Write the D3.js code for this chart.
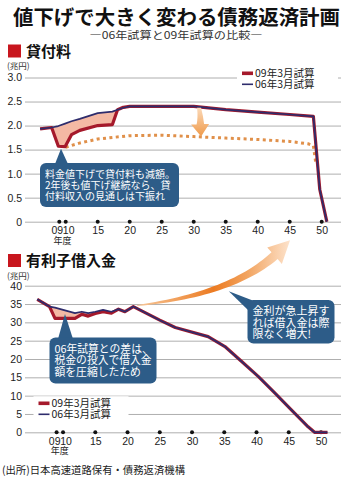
<!DOCTYPE html>
<html lang="ja">
<head>
<meta charset="UTF-8">
<title>値下げで大きく変わる債務返済計画</title>
<script src="https://d3js.org/d3.v7.min.js"></script>
<style>
  body { margin: 0; background: #fff; }
  svg { display: block; font-family: "Noto Sans CJK JP", "Noto Sans", sans-serif; }
  .tick text { font-family: "Liberation Sans", "Noto Sans", sans-serif; font-size: 10.5px; fill: #222; }
  .grid .tick line { stroke: #9a9a9a; stroke-width: 0.8; }
</style>
</head>
<body>
<svg id="chart" width="350" height="477"></svg>
<script>
// ---- data ----
// 貸付料 (兆円)
const lendYears = [6, 7.8, 8.85, 9.9, 10.9, 12.2, 15, 17.3, 18.1, 19, 20, 25, 30, 35, 40, 45, 48.7, 49.7, 50.8];
const lend06 = [1.93, 1.96, 1.99, 2.04, 2.09, 2.14, 2.26, 2.29, 2.33, 2.37, 2.40, 2.40, 2.40, 2.33, 2.28, 2.23, 2.19, 0.67, 0];
const lend09 = [1.93, 1.96, 1.57, 1.56, 1.81, 1.90, 2.00, 2.02, 2.33, 2.38, 2.40, 2.40, 2.40, 2.33, 2.28, 2.23, 2.19, 0.67, 0];
const lendOutlookYears = [10, 12, 15, 20, 25, 30, 35, 40, 45, 47.9, 48.7, 49.1];
const lendOutlook = [1.55, 1.63, 1.72, 1.79, 1.80, 1.77, 1.74, 1.71, 1.67, 1.62, 1.58, 1.2];

// 有利子借入金 (兆円)
const debtYears = [6, 7.9, 8.75, 11.85, 12.9, 13.9, 15, 16.2, 17.5, 18.6, 19.6, 20.9, 25, 27.4, 32.5, 35.1, 37.7, 40.3, 42.9, 45.4, 48, 49, 51];
const debt06 = [36.3, 34.3, 34.0, 32.5, 32.9, 32.5, 32.9, 33.4, 32.9, 33.6, 32.9, 34.3, 30.6, 28.6, 26.1, 23.4, 19.3, 15.2, 10.6, 6.1, 1.5, 0, 0];
const debt09 = [36.3, 34.3, 31.1, 31.1, 32.2, 31.7, 32.4, 32.9, 32.5, 33.6, 32.9, 34.3, 30.6, 28.6, 26.1, 23.4, 19.3, 15.2, 10.6, 6.1, 1.5, 0, 0];

const xTickYears = [9, 10, 15, 20, 25, 30, 35, 40, 45, 50];
const lendTicks = [0, 0.5, 1.0, 1.5, 2.0, 2.5, 3.0];
const debtTicks = [0, 5, 10, 15, 20, 25, 30, 35, 40];
const seriesNames = ["09年3月試算", "06年3月試算"];

const RED = "#a5192b", NAVY = "#2e2c6c", SHADE = "#f4b9a4", DOT = "#e0904a", BOX = "#2d5c88";

const svg = d3.select("#chart");
const defs = svg.append("defs");

// ---- title ----
svg.append("text").attr("x", 13).attr("y", 24.5)
  .attr("textLength", 327).attr("lengthAdjust", "spacingAndGlyphs")
  .style("font-size", "20px").style("font-weight", 700).attr("fill", "#111")
  .text("値下げで大きく変わる債務返済計画");
svg.append("text").attr("x", 176).attr("y", 38.5).attr("text-anchor", "middle")
  .attr("textLength", 173).attr("lengthAdjust", "spacingAndGlyphs")
  .style("font-size", "10.5px").attr("fill", "#333")
  .text("―06年試算と09年試算の比較―");

function header(y, label) {
  svg.append("rect").attr("x", 8).attr("y", y - 12).attr("width", 13).attr("height", 13).attr("fill", "#c8161e");
  svg.append("text").attr("x", 26).attr("y", y).style("font-size", "15px").style("font-weight", 700)
    .attr("fill", "#111").text(label);
  svg.append("text").attr("x", 7).attr("y", y + 12.5).style("font-size", "8.5px").attr("fill", "#333").text("(兆円)");
}

function panel(opt) {
  const { x, y, ticks, fmt, years, s06, s09, fillFrom, fillTo } = opt;
  const g = svg.append("g");
  // gridlines + y labels
  g.append("g").attr("class", "grid").attr("transform", "translate(25,0)")
    .call(d3.axisLeft(y).tickValues(ticks).tickFormat(fmt).tickSize(-316).tickPadding(3))
    .call(a => a.select(".domain").remove())
    .call(a => a.selectAll(".tick").filter(d => d === 0).select("line").attr("stroke", "#333").attr("stroke-width", 1));
  // x labels
  const xa = g.append("g").attr("transform", `translate(0,${y(0)})`)
    .call(d3.axisBottom(x).tickValues(xTickYears).tickFormat(d => d === 9 ? "09" : d).tickSize(0).tickPadding(5));
  xa.select(".domain").remove();
  xa.selectAll(".tick").filter(d => d === 9).select("text").attr("text-anchor", "end").attr("dx", "3.4");
  xa.selectAll(".tick").filter(d => d === 10).select("text").attr("text-anchor", "start").attr("dx", "-3.4");
  g.append("text").attr("x", (x(9) + x(10)) / 2).attr("y", y(0) + 22).attr("text-anchor", "middle")
    .style("font-size", "9px").attr("fill", "#222").text("年度");
  g.selectAll("circle.tk").data(xTickYears).join("circle").attr("class", "tk")
    .attr("cx", d => x(d)).attr("cy", y(0)).attr("r", 2).attr("fill", "#111");

  // shaded gap
  const idx = d3.range(fillFrom, fillTo + 1);
  g.append("path").datum(idx)
    .attr("d", d3.area().x(i => x(years[i])).y0(i => y(s06[i])).y1(i => y(s09[i])))
    .attr("fill", SHADE);
  return g;
}

function drawLines(g, x, y, years, s06, s09) {
  const line = d3.line().x((d, i) => x(years[i])).y(d => y(d));
  g.append("path").datum(s09).attr("d", line).attr("fill", "none")
    .attr("stroke", RED).attr("stroke-width", 3.2).attr("stroke-linejoin", "round");
  g.append("path").datum(s06).attr("d", line).attr("fill", "none")
    .attr("stroke", NAVY).attr("stroke-width", 1.7).attr("stroke-linejoin", "round");
}

function legend(x0, yRow, bgW) {
  svg.append("rect").attr("x", x0 - 5).attr("y", yRow - 7).attr("width", bgW).attr("height", 24).attr("fill", "#fff");
  const items = [{ c: RED, w: 3.6 }, { c: NAVY, w: 1.6 }];
  items.forEach((it, i) => {
    const yy = yRow + i * 11;
    svg.append("line").attr("x1", x0).attr("x2", x0 + 11).attr("y1", yy).attr("y2", yy)
      .attr("stroke", it.c).attr("stroke-width", it.w);
    svg.append("text").attr("x", x0 + 13).attr("y", yy + 4).style("font-size", "10.5px")
      .attr("fill", "#222").text(seriesNames[i]);
  });
}

function callout(bx, by, bw, bh, ptr, lines, fs, lh) {
  svg.append("path").attr("d", d3.line()(ptr) + "Z").attr("fill", BOX);
  svg.append("rect").attr("x", bx).attr("y", by).attr("width", bw).attr("height", bh).attr("rx", 6).attr("fill", BOX);
  lines.forEach((t, i) => {
    svg.append("text").attr("x", bx + 5).attr("y", by + 15 + i * lh).style("font-size", fs + "px")
      .attr("fill", "#fff").text(t);
  });
}

// ---- 貸付料 panel ----
header(56.5, "貸付料");
const xTop = d3.scaleLinear().domain([9, 50]).range([59.3, 321.7]);
const yTop = d3.scaleLinear().domain([0, 3]).range([221.7, 77.5]);
const gTop = panel({ x: xTop, y: yTop, ticks: lendTicks, fmt: d3.format(".1f"),
  years: lendYears, s06: lend06, s09: lend09, fillFrom: 1, fillTo: 9 });
gTop.select(".grid").selectAll(".tick").filter(d => d === 0).select("text").text("0");
gTop.append("path").datum(lendOutlook)
  .attr("d", d3.line().x((d, i) => xTop(lendOutlookYears[i])).y(d => yTop(d)))
  .attr("fill", "none").attr("stroke", DOT).attr("stroke-width", 3).attr("stroke-dasharray", "3,3.4");
drawLines(gTop, xTop, yTop, lendYears, lend06, lend09);
legend(242, 73.3, 101);

// small bent arrow: 見通し下振れ
const ga = defs.append("linearGradient").attr("id", "gDown").attr("x1", 0).attr("y1", 0).attr("x2", 0).attr("y2", 1);
ga.append("stop").attr("offset", "0%").attr("stop-color", "#fbd9b8");
ga.append("stop").attr("offset", "100%").attr("stop-color", "#ef9a4a");
{
  const ax = xTop(31), top = yTop(2.37), bot = yTop(1.77);
  const p = d3.path();
  p.moveTo(ax - 3, top);
  p.quadraticCurveTo(ax - 2, top + 10, ax - 3.5, bot - 12);
  p.lineTo(ax - 9, bot - 12);
  p.lineTo(ax + 1, bot);
  p.lineTo(ax + 9, bot - 12.5);
  p.lineTo(ax + 4, bot - 12.5);
  p.quadraticCurveTo(ax + 3, top + 8, ax + 1, top);
  p.closePath();
  svg.append("path").attr("d", p.toString()).attr("fill", "url(#gDown)");
}

callout(40, 163, 139, 44, [[55, 164], [68, 164], [61, yTop(1.52)]],
  ["料金値下げで貸付料も減額。", "2年後も値下げ継続なら、貸", "付料収入の見通しは下振れ"], 10, 10.9);

// ---- 有利子借入金 panel ----
header(266, "有利子借入金");
const xBot = d3.scaleLinear().domain([9, 50]).range([56.6, 321]);
const yBot = d3.scaleLinear().domain([0, 40]).range([432.3, 285.7]);
const gBot = panel({ x: xBot, y: yBot, ticks: debtTicks, fmt: d3.format("d"),
  years: debtYears, s06: debt06, s09: debt09, fillFrom: 1, fillTo: 9 });
drawLines(gBot, xBot, yBot, debtYears, debt06, debt09);
legend(38.5, 403.3, 95);

// big rising arrow: 金利急上昇
const gu = defs.append("linearGradient").attr("id", "gUp").attr("gradientUnits", "userSpaceOnUse")
  .attr("x1", xBot(21.5)).attr("y1", 0).attr("x2", xBot(45.2)).attr("y2", 0);
gu.append("stop").attr("offset", "0%").attr("stop-color", "#f7c799");
gu.append("stop").attr("offset", "50%").attr("stop-color", "#ec7b22");
gu.append("stop").attr("offset", "72%").attr("stop-color", "#f2a460");
gu.append("stop").attr("offset", "100%").attr("stop-color", "#fde3cc");
{
  const P0 = [xBot(21.5), yBot(34.6)], C = [xBot(36), yBot(37.6)], P2 = [xBot(42.8), yBot(48.2)];
  const tip = [xBot(45.2), yBot(52.4)];
  const n = 30, left = [], right = [];
  for (let k = 0; k <= n; k++) {
    const t = k / n, u = 1 - t;
    const px = u * u * P0[0] + 2 * u * t * C[0] + t * t * P2[0];
    const py = u * u * P0[1] + 2 * u * t * C[1] + t * t * P2[1];
    let dx = 2 * u * (C[0] - P0[0]) + 2 * t * (P2[0] - C[0]);
    let dy = 2 * u * (C[1] - P0[1]) + 2 * t * (P2[1] - C[1]);
    const L = Math.hypot(dx, dy); dx /= L; dy /= L;
    const w = 0.4 + 4.2 * Math.pow(t, 0.8);
    left.push([px + dy * w, py - dx * w]);
    right.push([px - dy * w, py + dx * w]);
  }
  const end = left[n];
  const hx = (end[0] - P2[0]) / Math.hypot(end[0] - P2[0], end[1] - P2[1]);
  const hy = (end[1] - P2[1]) / Math.hypot(end[0] - P2[0], end[1] - P2[1]);
  const pts = left.concat([[P2[0] + hx * 11, P2[1] + hy * 11], tip, [P2[0] - hx * 11, P2[1] - hy * 11]], right.reverse());
  svg.append("path").attr("d", d3.line()(pts) + "Z").attr("fill", "url(#gUp)");
}

callout(49.5, 337.5, 107, 46, [[58, 339], [73, 339], [xBot(10.3), yBot(32.3)]],
  ["06年試算との差は、", "税金の投入で借入金", "額を圧縮したため"], 10.8, 11.7);
callout(247.5, 300, 87, 43.5, [[xBot(35.7), yBot(38.5)], [254, 301], [249, 311]],
  ["金利が急上昇す", "れば借入金は際", "限なく増大!"], 11, 11.6);

// ---- source ----
svg.append("text").attr("x", 2).attr("y", 474).attr("textLength", 183).attr("lengthAdjust", "spacingAndGlyphs")
  .style("font-size", "10.5px").attr("fill", "#222").text("(出所)日本高速道路保有・債務返済機構");
</script>
</body>
</html>
